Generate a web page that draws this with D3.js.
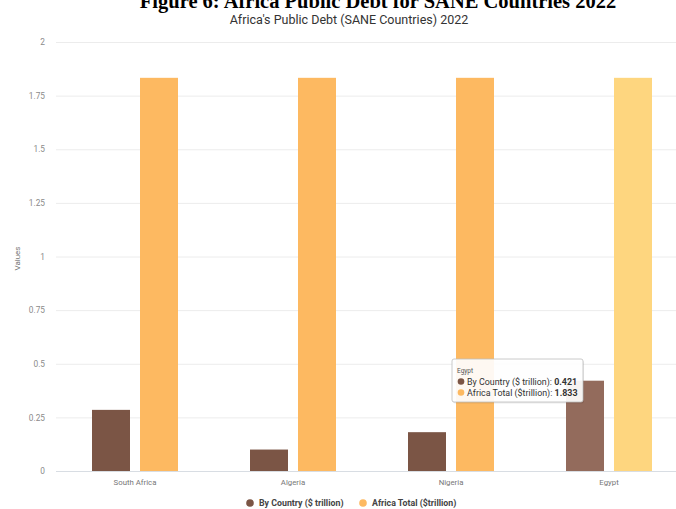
<!DOCTYPE html>
<html>
<head>
<meta charset="utf-8">
<script src="https://cdn.jsdelivr.net/npm/d3@7"></script>
<style>
  html, body { margin: 0; padding: 0; background: #fff; }
  svg { display: block; }
</style>
</head>
<body>
<svg id="chart" width="676" height="509"></svg>
<script>
// Public debt of the SANE countries, 2022 (trillions of US dollars)
const categories = ["South Africa", "Algeria", "Nigeria", "Egypt"];
const seriesNames = ["By Country ($ trillion)", "Africa Total ($trillion)"];
const byCountry = [0.285, 0.1, 0.181, 0.421];
const africaTotal = [1.833, 1.833, 1.833, 1.833];
const yTicks = [0, 0.25, 0.5, 0.75, 1, 1.25, 1.5, 1.75, 2];
const highlighted = "Egypt";

const colors = ["#7b5545", "#fdb961"];
const hoverColors = ["#936b5c", "#fed67f"];

const svg = d3.select("#chart");
const W = 676, H = 509;
const plot = { left: 56, right: 688, top: 42, bottom: 471 };

// Figure caption, partly cut by the top edge
svg.append("text")
  .attr("x", 378).attr("y", 8)
  .attr("text-anchor", "middle")
  .attr("font-family", "Liberation Serif, Times New Roman, serif")
  .attr("font-weight", "bold")
  .attr("font-size", 20.5)
  .attr("fill", "#000")
  .text("Figure 6: Africa Public Debt for SANE Countries 2022");

svg.append("text")
  .attr("x", 349).attr("y", 24)
  .attr("text-anchor", "middle")
  .attr("font-family", "Roboto, sans-serif")
  .attr("font-size", 12.5)
  .attr("fill", "#333")
  .text("Africa's Public Debt (SANE Countries) 2022");

const x0 = d3.scaleBand().domain(categories).range([plot.left, plot.right]).padding(0);
const x1 = d3.scaleBand().domain(seriesNames).range([36, 122]).paddingInner(10 / 48).paddingOuter(0);
const y = d3.scaleLinear().domain([0, 2]).range([plot.bottom, plot.top]);

// Horizontal grid and y axis labels
const yAxis = d3.axisLeft(y)
  .tickValues(yTicks)
  .tickSize(-(W - plot.left))
  .tickPadding(11)
  .tickFormat(d => d3.format("~g")(d));

const gy = svg.append("g")
  .attr("transform", `translate(${plot.left},0)`)
  .call(yAxis);
gy.select(".domain").remove();
gy.selectAll(".tick line")
  .attr("stroke", d => d === 0 ? "#d8dde3" : "#ececec")
  .attr("stroke-width", 1);
gy.selectAll(".tick text")
  .attr("font-family", "Roboto, sans-serif")
  .attr("font-size", 8.3)
  .attr("fill", "#8a8a8a");

svg.append("text")
  .attr("transform", `translate(20,${(plot.top + plot.bottom) / 2 + 2}) rotate(-90)`)
  .attr("text-anchor", "middle")
  .attr("font-family", "Roboto, sans-serif")
  .attr("font-size", 8)
  .attr("fill", "#777")
  .text("Values");

// X axis labels
const xAxis = d3.axisBottom(x0).tickSize(0).tickPadding(8);
const gx = svg.append("g")
  .attr("transform", `translate(0,${plot.bottom})`)
  .call(xAxis);
gx.select(".domain").remove();
gx.selectAll(".tick text")
  .attr("font-family", "Roboto, sans-serif")
  .attr("font-size", 7.8)
  .attr("fill", "#777");

// Bars
const rows = categories.map((c, i) => ({ cat: c, vals: [byCountry[i], africaTotal[i]] }));
const groups = svg.append("g").selectAll("g")
  .data(rows)
  .join("g")
  .attr("transform", d => `translate(${x0(d.cat)},0)`);

groups.selectAll("rect")
  .data(d => d.vals.map((v, k) => ({ cat: d.cat, k, v })))
  .join("rect")
  .attr("x", d => x1(seriesNames[d.k]))
  .attr("y", d => y(d.v))
  .attr("width", x1.bandwidth())
  .attr("height", d => y(0) - y(d.v))
  .attr("fill", d => d.cat === highlighted ? hoverColors[d.k] : colors[d.k]);

// Hover tooltip for the highlighted country
const hi = categories.indexOf(highlighted);
const tip = svg.append("g").attr("transform", "translate(452,359)");
tip.append("rect")
  .attr("x", 1).attr("y", 1.5)
  .attr("width", 131).attr("height", 43)
  .attr("rx", 2)
  .attr("fill", "#000").attr("opacity", 0.08);
tip.append("rect")
  .attr("width", 131).attr("height", 43)
  .attr("rx", 2)
  .attr("fill", "rgba(255,255,255,0.92)")
  .attr("stroke", "#bdbdbd").attr("stroke-width", 0.8);
tip.append("text")
  .attr("x", 5).attr("y", 14)
  .attr("font-family", "Roboto, sans-serif")
  .attr("font-size", 6.5)
  .attr("fill", "#555")
  .text(highlighted);
const tipVals = [byCountry[hi], africaTotal[hi]];
seriesNames.forEach((name, k) => {
  const ly = 25.5 + k * 11;
  tip.append("circle")
    .attr("cx", 9).attr("cy", ly - 3)
    .attr("r", 3.3)
    .attr("fill", colors[k]);
  const t = tip.append("text")
    .attr("x", 15).attr("y", ly)
    .attr("font-family", "Roboto, sans-serif")
    .attr("font-size", 8.9)
    .attr("fill", "#333");
  t.append("tspan").text(name + ": ");
  t.append("tspan").attr("font-weight", "bold").text(d3.format(".3f")(tipVals[k]));
});

// Legend
const legend = svg.append("g").attr("transform", "translate(0,506)");
const legendX = [250, 363];
seriesNames.forEach((name, k) => {
  legend.append("circle")
    .attr("cx", legendX[k]).attr("cy", -3)
    .attr("r", 3.8)
    .attr("fill", colors[k]);
  legend.append("text")
    .attr("x", legendX[k] + 9).attr("y", 0)
    .attr("font-family", "Roboto, sans-serif")
    .attr("font-weight", "bold")
    .attr("font-size", 8.8)
    .attr("fill", "#444")
    .text(name);
});
</script>
</body>
</html>
